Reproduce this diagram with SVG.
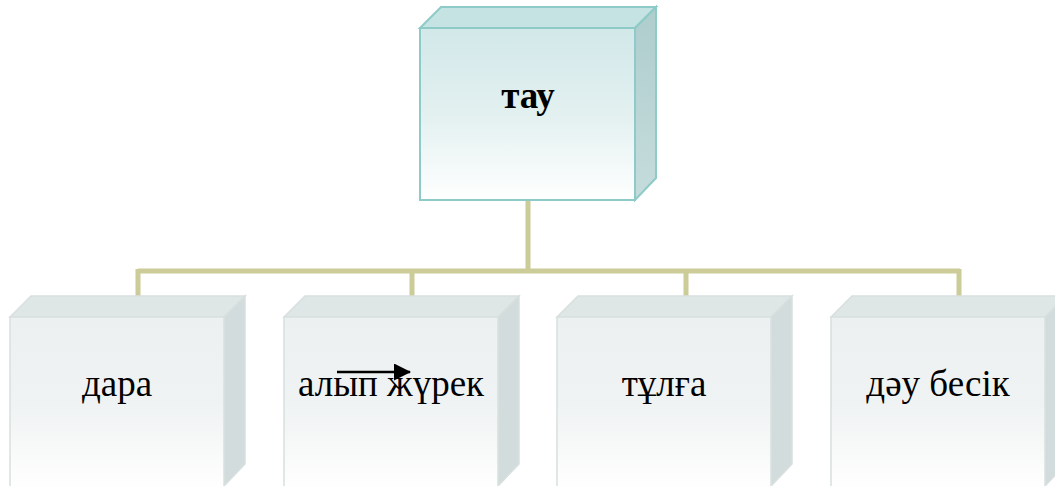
<svg xmlns="http://www.w3.org/2000/svg" width="1055" height="486" viewBox="0 0 1055 486">
<style>
.conn{fill:none;stroke:#cccc99;stroke-width:5}
.tf{fill:#c5e3e3;stroke:#8ecbc8;stroke-width:2}
.ts{fill:url(#gts);stroke:#8ecbc8;stroke-width:2}
.tfr{fill:url(#gtf);stroke:#8ecbc8;stroke-width:2}
.bt{fill:#dfe6e6;stroke:#d8dfdf;stroke-width:1.5}
.bs{fill:#d3dcdc;stroke:#d8dfdf;stroke-width:1.5}
.bf{fill:url(#gbf);stroke:#d8dfdf;stroke-width:1.5}
.lbl{font-family:"Liberation Serif","Times New Roman","DejaVu Serif",serif;font-size:37px;fill:#000;text-anchor:middle}
</style>
<defs>
<linearGradient id="gtf" x1="0" y1="0" x2="0" y2="1"><stop offset="0" stop-color="#d2e8e9"/><stop offset="0.5" stop-color="#e3f0f0"/><stop offset="1" stop-color="#ffffff"/></linearGradient>
<linearGradient id="gts" x1="0" y1="0" x2="0" y2="1"><stop offset="0" stop-color="#aecdcd"/><stop offset="1" stop-color="#c6dcdc"/></linearGradient>
<linearGradient id="gbf" x1="0" y1="0" x2="0" y2="1"><stop offset="0" stop-color="#ecf0f1"/><stop offset="0.5" stop-color="#f0f3f3"/><stop offset="1" stop-color="#ffffff"/></linearGradient>
<marker id="ah" markerWidth="17" markerHeight="17" refX="16" refY="8.5" orient="auto" markerUnits="userSpaceOnUse"><path d="M0,0 L17,8.5 L0,17 z" fill="#000"/></marker>
</defs>
<g id="connectors">
<path class="conn" d="M528,200 V271 M138,271 H960 M138,269 V296 M412,269 V296 M686,269 V296 M959,269 V296"/>
</g>
<g id="node-top">
<polygon class="tf" points="420,28 441,7 656,7 635,28"/>
<polygon class="ts" points="635,28 656,7 656,178 635,200"/>
<rect class="tfr" x="420" y="28" width="215" height="172"/>
<text class="lbl" x="528" y="108" font-weight="bold">тау</text>
</g>
<g id="node-1">
<polygon class="bt" points="10,317 31,296 245,296 224,317"/>
<polygon class="bs" points="224,317 245,296 245,464 224,486"/>
<rect class="bf" x="10" y="317" width="214" height="175"/>
<text class="lbl" x="117" y="396">дара</text>
</g>
<g id="node-2">
<polygon class="bt" points="284,317 305,296 519,296 498,317"/>
<polygon class="bs" points="498,317 519,296 519,464 498,486"/>
<rect class="bf" x="284" y="317" width="214" height="175"/>
<text class="lbl" x="391" y="396">алып жүрек</text>
<line x1="337" y1="372" x2="410" y2="372" stroke="#000" stroke-width="2.5" marker-end="url(#ah)"/>
</g>
<g id="node-3">
<polygon class="bt" points="557,317 578,296 792,296 771,317"/>
<polygon class="bs" points="771,317 792,296 792,464 771,486"/>
<rect class="bf" x="557" y="317" width="214" height="175"/>
<text class="lbl" x="664" y="396">тұлға</text>
</g>
<g id="node-4">
<polygon class="bt" points="831,317 852,296 1066,296 1045,317"/>
<polygon class="bs" points="1045,317 1066,296 1066,464 1045,486"/>
<rect class="bf" x="831" y="317" width="214" height="175"/>
<text class="lbl" x="938" y="396">дәу бесік</text>
</g>
</svg>
